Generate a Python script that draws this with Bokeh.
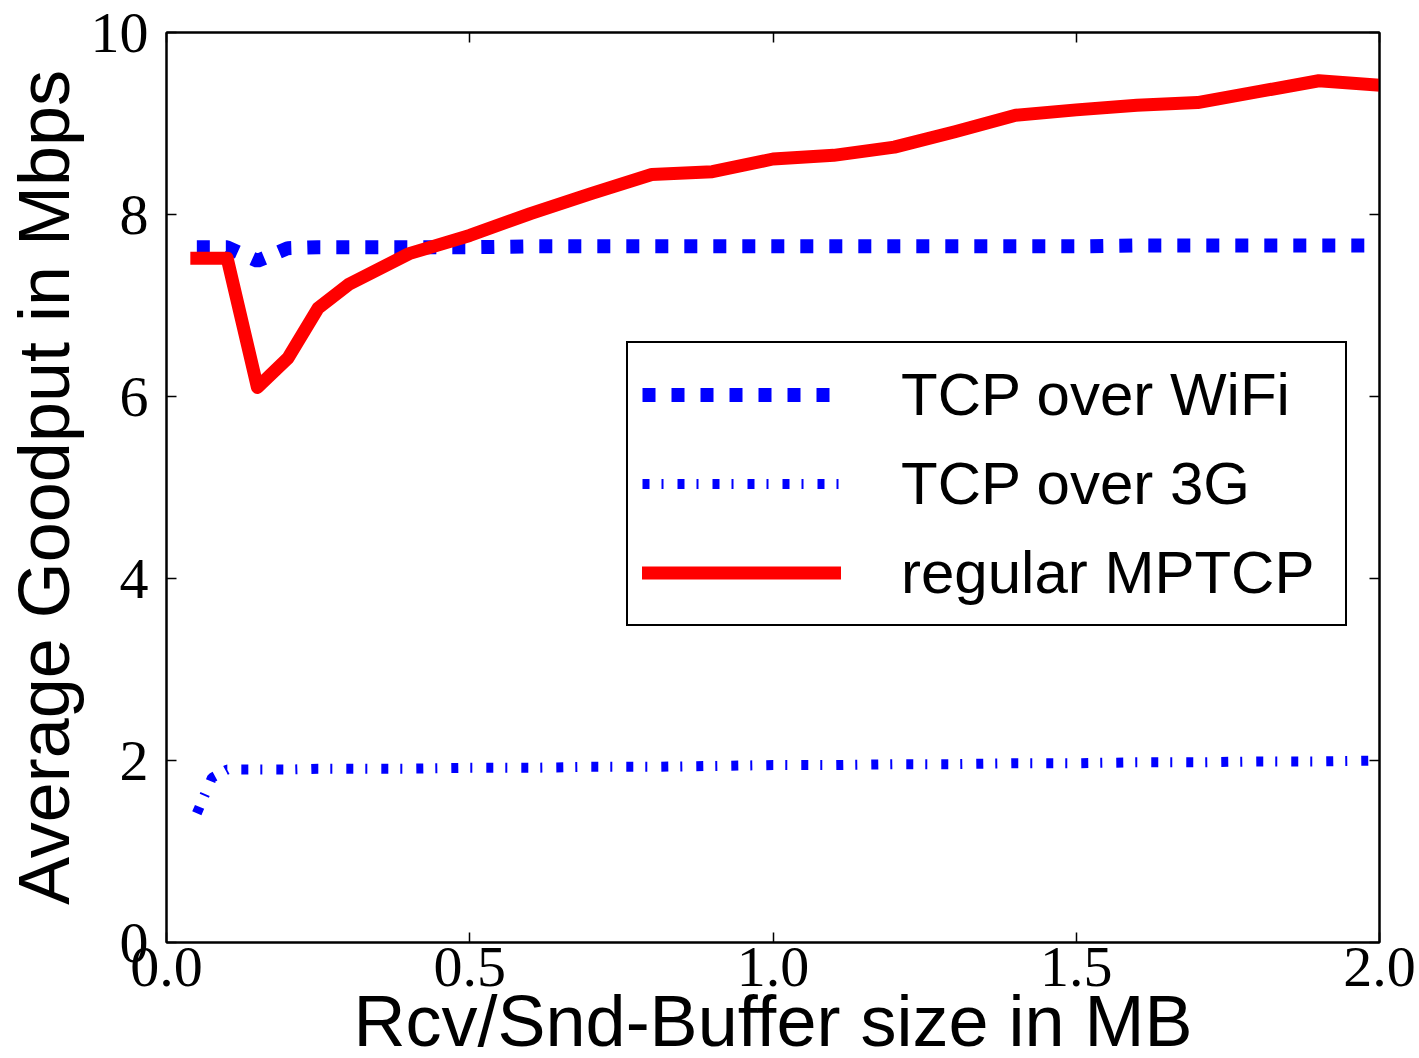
from bokeh.plotting import figure
from bokeh.models import (Range1d, LinearAxis, FixedTicker, Legend, LegendItem)
from bokeh.embed import file_html
from bokeh.resources import INLINE

# ---------------- data ----------------
x_buf = [0.05, 0.1, 0.15, 0.2, 0.25, 0.3, 0.4, 0.5, 0.6, 0.7, 0.8, 0.9, 1.0,
         1.1, 1.2, 1.3, 1.4, 1.5, 1.6, 1.7, 1.8, 1.9, 2.0]
wifi = [7.64, 7.64, 7.49, 7.63, 7.64, 7.64, 7.64, 7.64, 7.65, 7.65, 7.65, 7.65,
        7.65, 7.65, 7.65, 7.65, 7.65, 7.65, 7.66, 7.66, 7.66, 7.66, 7.66]
mptcp = [7.52, 7.52, 6.10, 6.42, 6.97, 7.23, 7.57, 7.77, 8.01, 8.23, 8.44, 8.47,
         8.61, 8.65, 8.74, 8.91, 9.09, 9.15, 9.20, 9.23, 9.35, 9.47, 9.42]
x_3g = [0.05, 0.075, 0.1, 0.15, 0.2, 0.25, 0.3, 0.4, 0.5, 0.6, 0.7, 0.8, 0.9,
        1.0, 1.1, 1.2, 1.3, 1.4, 1.5, 1.6, 1.7, 1.8, 1.9, 2.0]
g3 = [1.42, 1.81, 1.90, 1.90, 1.90, 1.91, 1.91, 1.91, 1.92, 1.92, 1.93, 1.93,
      1.94, 1.95, 1.95, 1.96, 1.96, 1.97, 1.97, 1.98, 1.98, 1.99, 1.99, 2.00]

series_names = ["TCP over WiFi", "TCP over 3G", "regular MPTCP"]
x_ticks = [0.0, 0.5, 1.0, 1.5, 2.0]
x_tick_labels = ["0.0", "0.5", "1.0", "1.5", "2.0"]
y_ticks = [0, 2, 4, 6, 8, 10]
y_tick_labels = ["0", "2", "4", "6", "8", "10"]
x_title = "Rcv/Snd-Buffer size in MB"
y_title = "Average Goodput in Mbps"

SERIF = "Liberation Serif"
SANS = "Liberation Sans"

p = figure(frame_width=1213, frame_height=910, output_backend="svg",
           toolbar_location=None,
           x_range=Range1d(0, 2), y_range=Range1d(0, 10),
           min_border_left=165, min_border_right=41, min_border_top=32,
           min_border_bottom=116, background_fill_color="white",
           border_fill_color="white")
p.grid.visible = False
p.outline_line_color = "black"
p.outline_line_width = 2

def style_axis(ax, ticks, show_labels=True):
    ax.ticker = FixedTicker(ticks=ticks)
    ax.axis_line_color = "black"
    ax.axis_line_width = 2
    ax.major_tick_in = 10
    ax.major_tick_out = 0
    ax.major_tick_line_width = 1.5
    ax.minor_tick_line_color = None
    if show_labels:
        ax.major_label_text_font = SERIF
        ax.major_label_text_font_size = "58px"
        ax.major_label_text_color = "black"
    else:
        ax.major_label_overrides = {t: "" for t in ticks}
        ax.major_label_standoff = 0

xax = p.xaxis[0]
yax = p.yaxis[0]
style_axis(xax, x_ticks)
style_axis(yax, y_ticks)
xax.major_label_overrides = {t: l for t, l in zip(x_ticks, x_tick_labels)}
yax.major_label_overrides = {t: l for t, l in zip(y_ticks, y_tick_labels)}
xax.major_label_standoff = 5
yax.major_label_standoff = 18

xax.axis_label = x_title
yax.axis_label = y_title
for ax in (xax, yax):
    ax.axis_label_text_font = SANS
    ax.axis_label_text_font_size = "72px"
    ax.axis_label_text_font_style = "normal"
    ax.axis_label_text_color = "black"
xax.axis_label_standoff = -8
yax.axis_label_standoff = 4

top_ax = LinearAxis()
right_ax = LinearAxis()
style_axis(top_ax, x_ticks, False)
style_axis(right_ax, y_ticks, False)
p.add_layout(top_ax, "above")
p.add_layout(right_ax, "right")

r_wifi = p.line(x_buf, wifi, line_color="#0000ff", line_width=14,
                line_dash="13 16", line_cap="butt")
r_3g = p.line(x_3g, g3, line_color="#0000ff", line_width=10,
              line_dash="7 12 2 14", line_cap="butt")
r_mp = p.line(x_buf, mptcp, line_color="#ff0000", line_width=13,
              line_cap="square", line_join="round")

legend = Legend(items=[LegendItem(label=series_names[0], renderers=[r_wifi]),
                       LegendItem(label=series_names[1], renderers=[r_3g]),
                       LegendItem(label=series_names[2], renderers=[r_mp])],
                location=(460, 316))
legend.label_text_font = SANS
legend.label_text_font_size = "60px"
legend.label_text_color = "black"
legend.label_standoff = 60
legend.glyph_width = 199
legend.glyph_height = 75
legend.label_height = 75
legend.label_width = 430
legend.spacing = 14
legend.padding = 14
legend.margin = 0
legend.border_line_color = "black"
legend.border_line_alpha = 1
legend.border_line_width = 2
legend.background_fill_color = "white"
legend.background_fill_alpha = 1
p.add_layout(legend, "center")

open("out.html", "w").write(file_html(p, INLINE))
